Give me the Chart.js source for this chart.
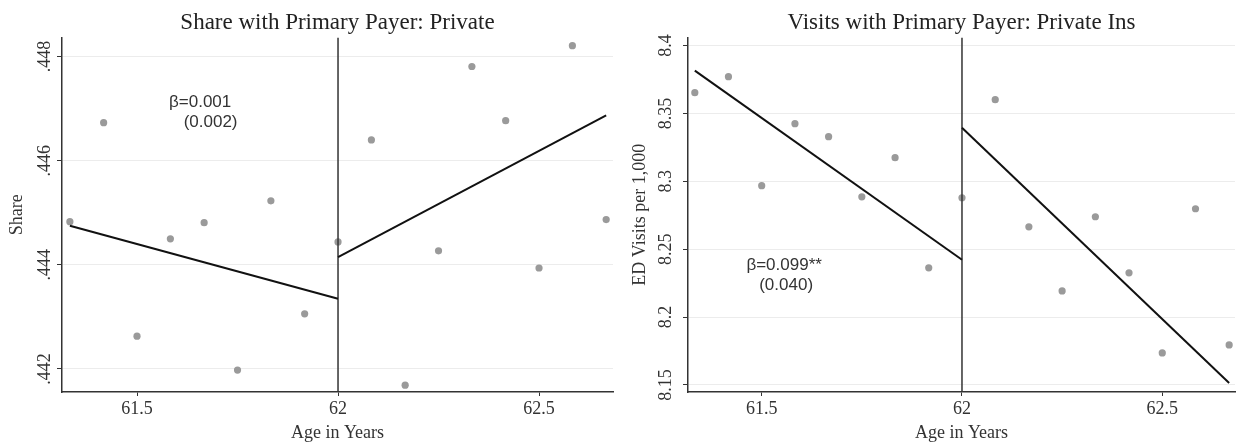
<!DOCTYPE html>
<html lang="en">
<head>
<meta charset="UTF-8">
<title>Primary Payer: Private</title>
<script src="https://cdn.jsdelivr.net/npm/chart.js@4.4.1/dist/chart.umd.min.js"></script>
<style>
  body { margin: 0; background: #fff; }
  #wrap { position: relative; width: 1239px; height: 445px; }
  #leftBox { position: absolute; left: 0; top: 0; }
  #rightBox { position: absolute; left: 620px; top: 0; }
</style>
</head>
<body>
<div id="wrap">
  <div id="leftBox"><canvas id="shareChart" width="620" height="445"></canvas></div>
  <div id="rightBox"><canvas id="visitsChart" width="619" height="445"></canvas></div>
</div>
<script>
// monthly age bins (years)
const ages = [61.333, 61.417, 61.5, 61.583, 61.667, 61.75, 61.833, 61.917, 62.0,
              62.083, 62.167, 62.25, 62.333, 62.417, 62.5, 62.583, 62.667];

// left panel: share with primary payer private
const shareValues = [0.44483, 0.44673, 0.44263, 0.4445, 0.44481, 0.44198, 0.44523, 0.44306, 0.44444,
                     0.4464, 0.44169, 0.44427, 0.44781, 0.44677, 0.44394, 0.44821, 0.44487];
const shareFitBefore = [[61.333, 0.44475], [62, 0.44335]];
const shareFitAfter = [[62, 0.44415], [62.667, 0.44687]];
const shareTicks = [0.442, 0.444, 0.446, 0.448];
const shareNote = ['β=0.001', '(0.002)'];

// right panel: ED visits per 1,000
const visitValues = [8.3653, 8.3771, 8.2968, 8.3425, 8.3329, 8.2886, 8.3174, 8.2363, 8.2879,
                     8.3602, 8.2665, 8.2193, 8.2739, 8.2326, 8.1736, 8.2798, 8.1795];
const visitFitBefore = [[61.333, 8.3816], [62, 8.2422]];
const visitFitAfter = [[62, 8.3395], [62.667, 8.1515]];
const visitTicks = [8.15, 8.2, 8.25, 8.3, 8.35, 8.4];
const visitNote = ['β=0.099**', '(0.040)'];

const ageTicks = [61.5, 62, 62.5];
const cutoff = 62;

const serif = '"Liberation Serif", "Times New Roman", serif';
const ink = '#333';

function notePlugin(lines, at) {
    return {
        id: 'noteText',
        afterDatasetsDraw(chart) {
            const ctx = chart.ctx;
            ctx.save();
            ctx.font = '17px "Liberation Sans", Arial, sans-serif';
            ctx.fillStyle = '#333';
            ctx.textAlign = 'center';
            ctx.textBaseline = 'middle';
            lines.forEach((t, i) => {
                ctx.fillText(t, chart.scales.x.getPixelForValue(at[i][0]), chart.scales.y.getPixelForValue(at[i][1]));
            });
            ctx.restore();
        }
    };
}

function makeChart(id, cfg) {
    const pts = ages.map((a, i) => ({ x: a, y: cfg.values[i] }));
    const seg = arr => arr.map(p => ({ x: p[0], y: p[1] }));
    const lineSet = (data, color, width) => ({
        data: data, showLine: true, borderColor: color, borderWidth: width,
        pointRadius: 0, order: 0
    });
    return new Chart(document.getElementById(id), {
        type: 'scatter',
        data: {
            datasets: [
                lineSet(seg(cfg.fitBefore), '#111', 2),
                lineSet(seg(cfg.fitAfter), '#111', 2),
                lineSet([{ x: cutoff, y: cfg.yMin }, { x: cutoff, y: cfg.yMax }], '#333', 1.5),
                { data: pts, pointRadius: 3.6, pointBackgroundColor: '#9a9a9a', pointBorderWidth: 0, order: 1 }
            ]
        },
        options: {
            responsive: false,
            animation: false,
            events: [],
            layout: { padding: { right: cfg.padRight } },
            plugins: {
                legend: { display: false },
                tooltip: { enabled: false },
                title: {
                    display: true, text: cfg.title, fullSize: false, color: '#222',
                    font: { family: serif, size: 23, weight: 'normal' },
                    padding: { top: 9, bottom: 1 }
                }
            },
            scales: {
                x: {
                    type: 'linear', min: cfg.xMin, max: cfg.xMax,
                    afterBuildTicks: s => { s.ticks = ageTicks.map(v => ({ value: v })); },
                    afterFit: s => { s.height = 53; },
                    ticks: { callback: v => String(v), color: ink, padding: 2, maxRotation: 0,
                             font: { family: serif, size: 18 } },
                    grid: { drawOnChartArea: false, tickLength: 4, tickColor: ink },
                    border: { color: ink, width: 1.5 },
                    title: { display: true, text: 'Age in Years', color: ink,
                             font: { family: serif, size: 18 }, padding: { top: 0, bottom: 1 } }
                },
                y: {
                    type: 'linear', min: cfg.yMin, max: cfg.yMax,
                    afterBuildTicks: s => { s.ticks = cfg.yTicks.map(v => ({ value: v })); },
                    afterFit: s => { s.width = cfg.yWidth; },
                    ticks: { callback: cfg.yFormat, color: ink, minRotation: 90, maxRotation: 90,
                             crossAlign: 'center', padding: cfg.yTickPad,
                             font: { family: serif, size: 18 } },
                    grid: { color: '#ececec', tickLength: 5, tickColor: ink },
                    border: { color: ink, width: 1.5 },
                    title: { display: true, text: cfg.yTitle, color: ink,
                             font: { family: serif, size: 18 }, padding: { top: cfg.yTitlePad, bottom: 0 } }
                }
            }
        },
        plugins: [notePlugin(cfg.note, cfg.noteAt)]
    });
}

makeChart('shareChart', {
    title: 'Share with Primary Payer: Private',
    yTitle: 'Share',
    values: shareValues,
    fitBefore: shareFitBefore,
    fitAfter: shareFitAfter,
    yTicks: shareTicks,
    yFormat: v => v.toFixed(3).replace(/^0/, ''),
    xMin: 61.3134, xMax: 62.684,
    yMin: 0.441558, yMax: 0.448365,
    yWidth: 62, yTickPad: -4, yTitlePad: 6, padRight: 7,
    note: shareNote,
    noteAt: [[61.657, 0.447115], [61.683, 0.44674]]
});

makeChart('visitsChart', {
    title: 'Visits with Primary Payer: Private Ins',
    yTitle: 'ED Visits per 1,000',
    values: visitValues,
    fitBefore: visitFitBefore,
    fitAfter: visitFitAfter,
    yTicks: visitTicks,
    yFormat: v => String(v),
    xMin: 61.316, xMax: 62.6816,
    yMin: 8.1448, yMax: 8.4059,
    yWidth: 68, yTickPad: 1, yTitlePad: 9, padRight: 2,
    note: visitNote,
    noteAt: [[61.556, 8.2385], [61.561, 8.2237]]
});
</script>
</body>
</html>
